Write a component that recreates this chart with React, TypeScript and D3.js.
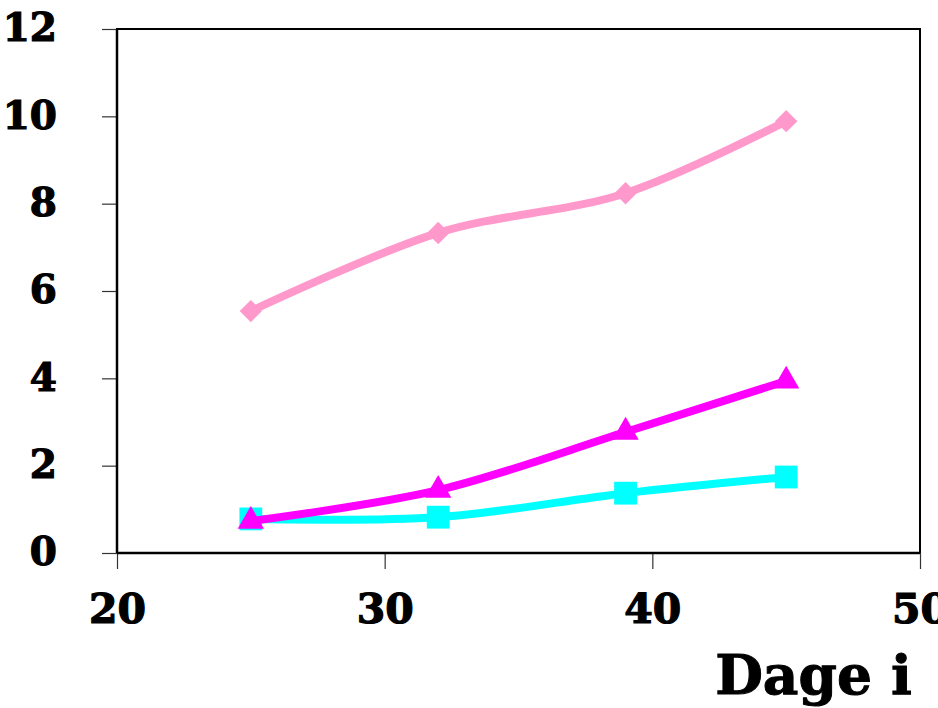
import * as d3 from "d3";
import { useEffect, useRef } from "react";

// Data
const days = [25, 32, 39, 45];
const pinkValues = [5.54, 7.33, 8.24, 9.89];
const magentaValues = [0.73, 1.44, 2.77, 3.94];
const cyanValues = [0.78, 0.82, 1.37, 1.74];
const xTicks = [20, 30, 40, 50];
const yTicks = [0, 2, 4, 6, 8, 10, 12];
const xTitle = "Dage i";

const App = () => {
  const ref = useRef<SVGSVGElement>(null);

  useEffect(() => {
    const svg = d3.select(ref.current);
    svg.selectAll("*").remove();

    const left = 117;
    const right = 920;
    const top = 29;
    const bottom = 553;
    const font = "'DejaVu Serif', serif";

    const x = d3.scaleLinear().domain([20, 50]).range([left, right]);
    const y = d3.scaleLinear().domain([0, 12]).range([bottom, top]);

    // Rahmen
    svg.append("rect")
      .attr("x", left).attr("y", top)
      .attr("width", right - left).attr("height", bottom - top)
      .attr("fill", "white").attr("stroke", "black").attr("stroke-width", 2);

    // Achse Y
    const gy = svg.append("g")
      .attr("transform", `translate(${left},0)`)
      .call(d3.axisLeft(y).tickValues(yTicks).tickSize(15).tickPadding(45).tickFormat(d3.format("d")));
    gy.select(".domain").remove();
    gy.selectAll("line").attr("stroke", "#333").attr("stroke-width", 1.2);
    gy.selectAll("text")
      .attr("font-family", font).attr("font-weight", "bold").attr("font-size", 39)
      .attr("fill", "black").attr("stroke", "black").attr("stroke-width", 1.2)
      .attr("dy", "0.3em");

    // Achse X
    const gx = svg.append("g")
      .attr("transform", `translate(0,${bottom})`)
      .call(d3.axisBottom(x).tickValues(xTicks).tickSize(16).tickPadding(25).tickFormat(d3.format("d")));
    gx.select(".domain").remove();
    gx.selectAll("line").attr("stroke", "#333").attr("stroke-width", 1.2);
    gx.selectAll("text")
      .attr("font-family", font).attr("font-weight", "bold").attr("font-size", 41)
      .attr("fill", "black").attr("stroke", "black").attr("stroke-width", 1.2);

    // Achsen nachzeichnen
    svg.append("line").attr("x1", left).attr("x2", left).attr("y1", top).attr("y2", bottom)
      .attr("stroke", "black").attr("stroke-width", 2.5);
    svg.append("line").attr("x1", left).attr("x2", right).attr("y1", bottom).attr("y2", bottom)
      .attr("stroke", "black").attr("stroke-width", 2.5);

    svg.append("text")
      .attr("x", 912).attr("y", 694)
      .attr("text-anchor", "end")
      .attr("font-family", font).attr("font-weight", "bold").attr("font-size", 55)
      .attr("stroke", "black").attr("stroke-width", 1)
      .text(xTitle);

    const line = d3.line<number>()
      .x((_, i) => x(days[i]))
      .y(d => y(d))
      .curve(d3.curveCatmullRom.alpha(0.5));

    const series = [
      { values: pinkValues, color: "#FF99CC", shape: d3.symbolDiamond2, size: 320 },
      { values: cyanValues, color: "#00FFFF", shape: d3.symbolSquare, size: 520 },
      { values: magentaValues, color: "#FF00FF", shape: d3.symbolTriangle, size: 300 },
    ];

    series.forEach(s => {
      svg.append("path")
        .datum(s.values)
        .attr("d", line)
        .attr("fill", "none")
        .attr("stroke", s.color)
        .attr("stroke-width", 8);

      svg.selectAll(null)
        .data(s.values)
        .enter()
        .append("path")
        .attr("transform", (d, i) => `translate(${x(days[i])},${y(d)})`)
        .attr("d", d3.symbol().type(s.shape).size(s.size)())
        .attr("fill", s.color);
    });
  }, []);

  return (
    <svg ref={ref} width={938} height={708}
      style={{ position: "absolute", left: 0, top: 0, background: "white" }} />
  );
};

export default App;
